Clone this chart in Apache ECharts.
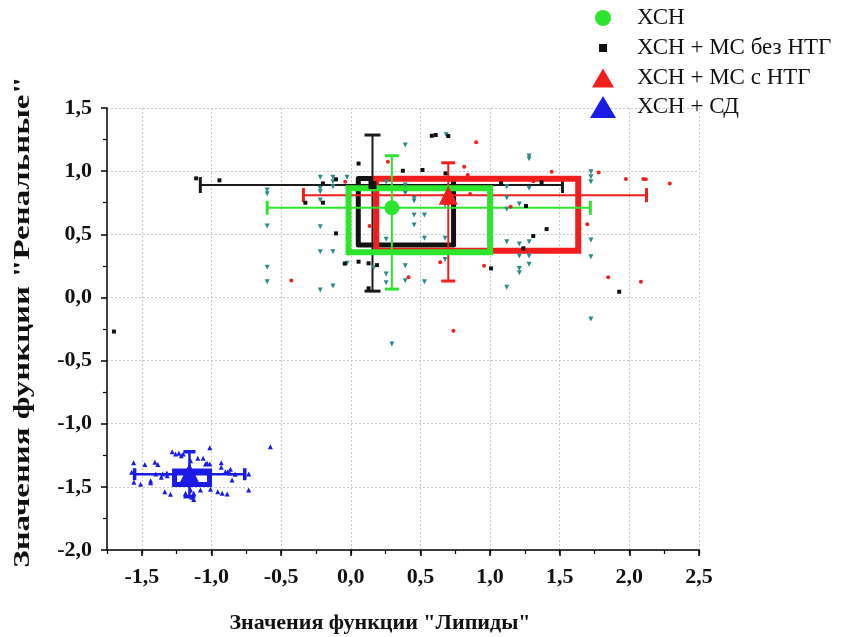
<!DOCTYPE html>
<html>
<head>
<meta charset="utf-8">
<script src="https://cdn.jsdelivr.net/npm/echarts@6/dist/echarts.min.js"></script>
<style>
  html, body { margin: 0; padding: 0; background: #fff; }
  #chart { width: 847px; height: 637px; }
</style>
</head>
<body>
<div id="chart"></div>
<script>
// Groups shown in the legend
const groupNames = ['ХСН', 'ХСН + МС без НТГ', 'ХСН + МС с НТГ', 'ХСН + СД'];
const groupColors = ['#2ee52e', '#111111', '#f21d1d', '#1b1be8'];

// Group means: [lipids, renal]
const groupMeans = [
  [0.295, 0.71],
  [0.156, 0.89],
  [0.70, 0.81],
  [-1.158, -1.40]
];
// Boxes: [xLow, xHigh, yLow, yHigh]
const groupBoxes = [
  [-0.016, 1.0, 0.357, 0.864],
  [0.054, 0.738, 0.415, 0.941],
  [0.183, 1.633, 0.37, 0.94],
  [-1.265, -1.014, -1.481, -1.374]
];
// Whiskers: [xLow, xHigh, yLow, yHigh]
const groupWhiskers = [
  [-0.60, 1.72, 0.066, 1.122],
  [-1.08, 1.52, 0.05, 1.286],
  [-0.34, 2.123, 0.13, 1.066],
  [-1.552, -0.761, -1.578, -1.222]
];

// Individual observations
const pointsChf = [
  [-0.219, 0.951], [-0.128, 0.951], [-0.128, 0.916], [-0.128, 0.877], [-0.027, 0.951],
  [-0.219, 0.864], [-0.219, 0.837], [-0.219, 0.771], [-0.60, 0.85], [-0.60, 0.82],
  [-0.60, 0.565], [-0.219, 0.56], [-0.219, 0.362], [-0.128, 0.362], [-0.60, 0.238],
  [-0.60, 0.124], [-0.219, 0.059], [-0.128, 0.09], [-0.027, 0.27], [0.391, 1.207],
  [0.685, 1.289], [1.28, 1.12], [1.28, 1.098], [1.724, 0.995], [1.724, 0.956],
  [1.724, 0.916], [0.254, 0.914], [0.391, 0.89], [0.455, 0.785], [0.455, 0.763],
  [0.391, 0.824], [1.12, 0.877], [1.12, 0.79], [1.12, 0.698], [1.28, 0.864],
  [1.21, 0.74], [0.677, 0.731], [0.455, 0.652], [0.529, 0.652], [0.455, 0.573],
  [0.254, 0.46], [0.529, 0.468], [0.677, 0.468], [1.12, 0.441], [1.21, 0.423],
  [1.28, 0.441], [1.21, 0.328], [1.28, 0.328], [1.724, 0.454], [1.724, 0.322],
  [0.677, 0.30], [0.391, 0.251], [0.254, 0.185], [0.254, 0.116], [0.391, 0.132],
  [0.529, 0.124], [1.28, 0.262], [1.21, 0.23], [1.21, 0.196], [1.12, 0.08],
  [0.164, 0.235], [1.724, -0.171], [0.295, -0.369]
];
const pointsMsNoNtg = [
  [-1.11, 0.943], [-0.943, 0.927], [-0.20, 0.903], [-0.106, 0.935], [-0.326, 0.75],
  [-0.20, 0.75], [-0.106, 0.507], [-0.043, 0.268], [0.056, 1.06], [0.056, 0.283],
  [-1.70, -0.27], [0.582, 1.28], [0.61, 1.286], [0.70, 1.278], [0.374, 1.003],
  [0.515, 1.009], [0.68, 0.982], [1.079, 0.903], [1.37, 0.911], [1.258, 0.724],
  [1.406, 0.541], [1.31, 0.486], [1.239, 0.389], [1.007, 0.23], [0.128, 0.27],
  [0.188, 0.256], [0.128, 0.072], [1.927, 0.045]
];
const pointsMsNtg = [
  [0.90, 1.228], [0.267, 1.075], [0.814, 1.035], [0.84, 0.969], [1.442, 0.995],
  [1.78, 0.99], [1.975, 0.937], [2.10, 0.937], [2.118, 0.935], [2.29, 0.903],
  [-0.04, 0.916], [0.135, 0.565], [0.857, 0.819], [1.148, 0.718], [1.698, 0.579],
  [0.642, 0.278], [0.415, 0.159], [0.957, 0.251], [1.848, 0.159], [2.083, 0.124],
  [0.737, -0.264], [-0.427, 0.135], [1.31, 0.92]
];
const pointsDm = [
  [-1.559, -1.309], [-1.478, -1.322], [-1.406, -1.306], [-1.385, -1.322], [-1.282, -1.222],
  [-1.258, -1.24], [-1.234, -1.234], [-1.217, -1.253], [-1.203, -1.24], [-1.012, -1.19],
  [-1.06, -1.274], [-1.031, -1.314], [-1.012, -1.319], [-0.93, -1.309], [-0.93, -1.345],
  [-0.864, -1.361], [-0.90, -1.38], [-0.883, -1.38], [-1.573, -1.385], [-0.733, -1.398],
  [-1.557, -1.464], [-1.509, -1.48], [-1.437, -1.451], [-1.437, -1.467], [-1.36, -1.424],
  [-1.318, -1.412], [-1.335, -1.538], [-1.294, -1.559], [-1.15, -1.525], [-1.186, -1.551],
  [-1.127, -1.551], [-1.079, -1.525], [-1.143, -1.583], [-1.127, -1.60], [-1.007, -1.519],
  [-0.955, -1.538], [-0.923, -1.551], [-0.887, -1.557], [-0.852, -1.446], [-0.733, -1.525],
  [-0.577, -1.182], [-1.40, -1.398], [-1.35, -1.398], [-1.32, -1.39], [-0.87, -1.39],
  [-0.83, -1.40], [-1.15, -1.293], [-1.098, -1.274], [-1.043, -1.319]
];

// Axis ticks and titles
const xTickValues = [-1.5, -1.0, -0.5, 0.0, 0.5, 1.0, 1.5, 2.0, 2.5];
const xMin = -1.75, xMax = 2.5;
const yMin = -2.0, yMax = 1.5, yStep = 0.5;
const xTitle = 'Значения функции "Липиды"';
const yTitle = 'Значения функции "Ренальные"';

const serif = "'Liberation Serif', 'Times New Roman', 'DejaVu Serif', serif";
const fmt = v => v.toFixed(1).replace('.', ',');

const boxWidths = [6, 5, 6, 5];
const capHalf = [7, 8, 7, 6];
const barWidths = [2, 2, 2, 2.5];

function boxSeries(i) {
  return {
    type: 'custom',
    name: groupNames[i],
    silent: true,
    data: [groupBoxes[i]],
    renderItem: function (params, api) {
      const a = api.coord([api.value(0), api.value(3)]);
      const b = api.coord([api.value(1), api.value(2)]);
      return {
        type: 'rect',
        shape: { x: a[0], y: a[1], width: b[0] - a[0], height: b[1] - a[1] },
        style: {
          fill: 'none', stroke: groupColors[i], lineWidth: boxWidths[i],
          lineJoin: i === 1 ? 'round' : 'miter'
        }
      };
    }
  };
}

function whiskerSeries(i) {
  const m = groupMeans[i];
  const w = groupWhiskers[i];
  return {
    type: 'custom',
    name: groupNames[i],
    silent: true,
    data: [[m[0], m[1], w[0], w[1], w[2], w[3]]],
    renderItem: function (params, api) {
      const mx = api.value(0), my = api.value(1);
      const l = api.coord([api.value(2), my]);
      const r = api.coord([api.value(3), my]);
      const b = api.coord([mx, api.value(4)]);
      const t = api.coord([mx, api.value(5)]);
      const h = capHalf[i];
      const st = { stroke: i === 1 ? '#1a1a1a' : groupColors[i], lineWidth: barWidths[i] };
      const cap = { stroke: st.stroke, lineWidth: barWidths[i] + 1 };
      const line = (x1, y1, x2, y2, s) => ({ type: 'line', shape: { x1, y1, x2, y2 }, style: s });
      return {
        type: 'group',
        children: [
          line(l[0], l[1], r[0], r[1], st),
          line(b[0], b[1], t[0], t[1], st),
          line(l[0], l[1] - h, l[0], l[1] + h, cap),
          line(r[0], r[1] - h, r[0], r[1] + h, cap),
          line(b[0] - h, b[1], b[0] + h, b[1], cap),
          line(t[0] - h, t[1], t[0] + h, t[1], cap)
        ]
      };
    }
  };
}

const meanSymbols = ['circle', 'rect', 'triangle', 'triangle'];
const meanSizes = [15, 8, 19, 22];
// legend icon boxes [width, height] and row centres
const legendIcons = [[16, 16], [8, 8], [22, 19], [26, 22]];
const legendCenters = [18, 48, 78, 107];

const chart = echarts.init(document.getElementById('chart'), null, { renderer: 'canvas' });

const dotStyle = c => ({ color: c, opacity: 1 });
const series = [
  {
    type: 'scatter', name: groupNames[0], data: pointsChf, symbol: 'triangle', symbolRotate: 180,
    symbolSize: 5, itemStyle: dotStyle('#2b8a8c'), silent: true
  },
  {
    type: 'scatter', name: groupNames[1], data: pointsMsNoNtg, symbol: 'rect',
    symbolSize: 4, itemStyle: dotStyle('#111'), silent: true
  },
  {
    type: 'scatter', name: groupNames[2], data: pointsMsNtg, symbol: 'circle',
    symbolSize: 4, itemStyle: dotStyle('#f02020'), silent: true
  },
  {
    type: 'scatter', name: groupNames[3], data: pointsDm, symbol: 'triangle',
    symbolSize: 5, itemStyle: dotStyle('#1b1be8'), silent: true
  },
  boxSeries(1), whiskerSeries(1),
  boxSeries(2), whiskerSeries(2),
  boxSeries(0), whiskerSeries(0),
  boxSeries(3), whiskerSeries(3)
];
groupNames.forEach((n, i) => {
  series.push({
    type: 'scatter', name: n, data: [groupMeans[i]], symbol: meanSymbols[i],
    symbolSize: meanSizes[i], itemStyle: dotStyle(groupColors[i]), silent: true, z: 3
  });
});

const legendFont = 23;
const option = {
  animation: false,
  backgroundColor: '#fff',
  grid: { left: 107, right: 148, top: 108, bottom: 87, containLabel: false, outerBoundsMode: 'none' },
  legend: groupNames.map((n, i) => {
    const w = legendIcons[i][0], h = legendIcons[i][1];
    return {
      data: [{ name: n, icon: meanSymbols[i], itemStyle: { color: groupColors[i], opacity: 1, borderWidth: 0 } }],
      orient: 'vertical',
      left: 603 - w / 2,
      top: legendCenters[i] - Math.max(h, legendFont) / 2,
      itemWidth: w,
      itemHeight: h,
      symbolKeepAspect: false,
      padding: 0,
      selectedMode: false,
      textStyle: {
        fontFamily: serif, fontSize: legendFont, color: '#111',
        padding: [0, 0, 0, 637 - (603 + w / 2 + 5)]
      }
    };
  }),
  graphic: [{
    type: 'text',
    x: 23, y: 322,
    rotation: Math.PI / 2,
    scaleX: 1.43,
    silent: true,
    style: {
      text: yTitle, fontFamily: serif, fontWeight: 'bold', fontSize: 23, fill: '#111',
      align: 'center', verticalAlign: 'middle'
    }
  }],
  xAxis: [
    {
      type: 'value', min: xMin, max: xMax, position: 'bottom',
      name: xTitle, nameLocation: 'middle', nameGap: 62,
      nameTextStyle: { fontFamily: serif, fontWeight: 'bold', fontSize: 22, color: '#111', padding: [0, 46, 0, 0] },
      axisLine: { show: true, onZero: false, lineStyle: { color: '#000', width: 1.5 } },
      axisTick: { show: true, customValues: xTickValues, length: 6, lineStyle: { color: '#000', width: 1.5 } },
      axisLabel: {
        customValues: xTickValues, formatter: fmt, margin: 16,
        fontFamily: serif, fontWeight: 'bold', fontSize: 22, color: '#111'
      },
      splitLine: { show: true, lineStyle: { color: '#c8c8c8', type: [2, 2], width: 1 } }
    },
    {
      type: 'value', min: xMin, max: xMax, interval: 0.25, position: 'bottom',
      axisLine: { show: false, onZero: false },
      axisTick: { show: true, length: 4, lineStyle: { color: '#000', width: 1.2 } },
      axisLabel: { show: false },
      splitLine: { show: false }
    }
  ],
  yAxis: {
    type: 'value', min: yMin, max: yMax, interval: yStep,
    axisLine: { show: true, onZero: false, lineStyle: { color: '#000', width: 1.5 } },
    axisTick: { show: true, length: 6, lineStyle: { color: '#000', width: 1.5 } },
    minorTick: { show: true, splitNumber: 2, length: 4, lineStyle: { color: '#000', width: 1.2 } },
    axisLabel: { formatter: fmt, margin: 15, fontFamily: serif, fontWeight: 'bold', fontSize: 22, color: '#111' },
    splitLine: { show: true, lineStyle: { color: '#c8c8c8', type: [2, 2], width: 1 } }
  },
  series: series
};

chart.setOption(option);
</script>
</body>
</html>
